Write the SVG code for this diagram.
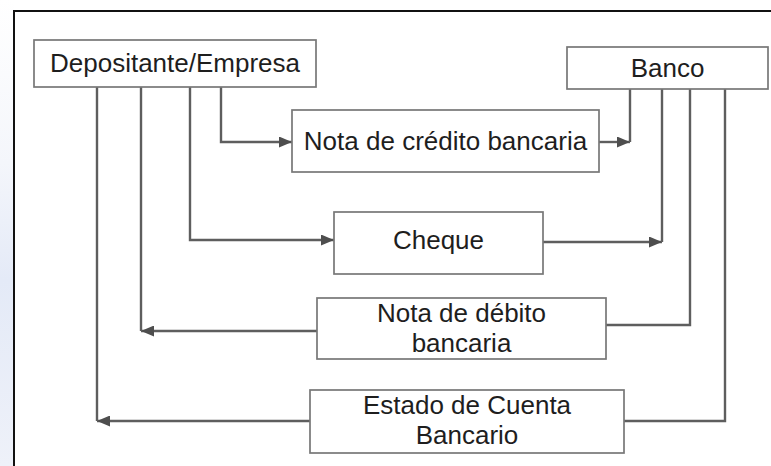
<svg xmlns="http://www.w3.org/2000/svg" width="771" height="466" viewBox="0 0 771 466">
  <style>
    .box { fill: #ffffff; stroke: #777777; stroke-width: 1.7; }
    .lbl { font-family: "Liberation Sans", Arial, sans-serif; font-size: 26px; fill: #1e1e1e; text-anchor: middle; }
    .wire { fill: none; stroke: #5e5e5e; stroke-width: 2.4; }
  </style>
  <defs>
    <linearGradient id="edgeTint" x1="0" y1="0" x2="0" y2="1">
      <stop offset="0" stop-color="#ffffff"/>
      <stop offset="0.35" stop-color="#f4f6fb"/>
      <stop offset="0.6" stop-color="#e4eaf7"/>
      <stop offset="1" stop-color="#eef1f9"/>
    </linearGradient>
    <marker id="arrow" viewBox="0 0 13 11" refX="13" refY="5.5" markerWidth="13" markerHeight="11" markerUnits="userSpaceOnUse" orient="auto">
      <path d="M0,0 L13,5.5 L0,11 Z" fill="#4e4e4e"/>
    </marker>
  </defs>

  <!-- page background and frame -->
  <rect x="0" y="0" width="771" height="466" fill="#ffffff"/>
  <rect x="0" y="0" width="14" height="466" fill="url(#edgeTint)"/>
  <path d="M14,466 V11 H771" fill="none" stroke="#111111" stroke-width="2"/>

  <!-- connectors -->
  <g id="connectors">
    <!-- Depositante -> Nota de credito -> Banco -->
    <path class="wire" d="M221,87 V142 H292" marker-end="url(#arrow)"/>
    <path class="wire" d="M599,142 H630" marker-end="url(#arrow)"/>
    <path class="wire" d="M630,142 V89"/>
    <!-- Depositante -> Cheque -> Banco -->
    <path class="wire" d="M190,87 V240 H334" marker-end="url(#arrow)"/>
    <path class="wire" d="M543,242 H662" marker-end="url(#arrow)"/>
    <path class="wire" d="M662,242 V89"/>
    <!-- Banco -> Nota de debito -> Depositante -->
    <path class="wire" d="M690,89 V325 H606"/>
    <path class="wire" d="M317,331 H141" marker-end="url(#arrow)"/>
    <path class="wire" d="M141,331 V87"/>
    <!-- Banco -> Estado de Cuenta -> Depositante -->
    <path class="wire" d="M725,89 V421 H624"/>
    <path class="wire" d="M310,421 H97" marker-end="url(#arrow)"/>
    <path class="wire" d="M97,421 V87"/>
  </g>

  <g id="depositante">
    <rect class="box" x="34" y="40" width="282" height="47"/>
    <text class="lbl" x="175" y="72">Depositante/Empresa</text>
  </g>

  <g id="banco">
    <rect class="box" x="567" y="47" width="201" height="42"/>
    <text class="lbl" x="667.5" y="77">Banco</text>
  </g>

  <g id="nota-credito">
    <rect class="box" x="292" y="110" width="307" height="62"/>
    <text class="lbl" x="445.5" y="150">Nota de crédito bancaria</text>
  </g>

  <g id="cheque">
    <rect class="box" x="334" y="212" width="209" height="62"/>
    <text class="lbl" x="438.5" y="249">Cheque</text>
  </g>

  <g id="nota-debito">
    <rect class="box" x="317" y="298" width="289" height="61"/>
    <text class="lbl" x="461.5" y="322">Nota de débito</text>
    <text class="lbl" x="461.5" y="352">bancaria</text>
  </g>

  <g id="estado-cuenta">
    <rect class="box" x="310" y="390" width="314" height="63"/>
    <text class="lbl" x="467" y="414">Estado de Cuenta</text>
    <text class="lbl" x="467" y="444">Bancario</text>
  </g>
</svg>
